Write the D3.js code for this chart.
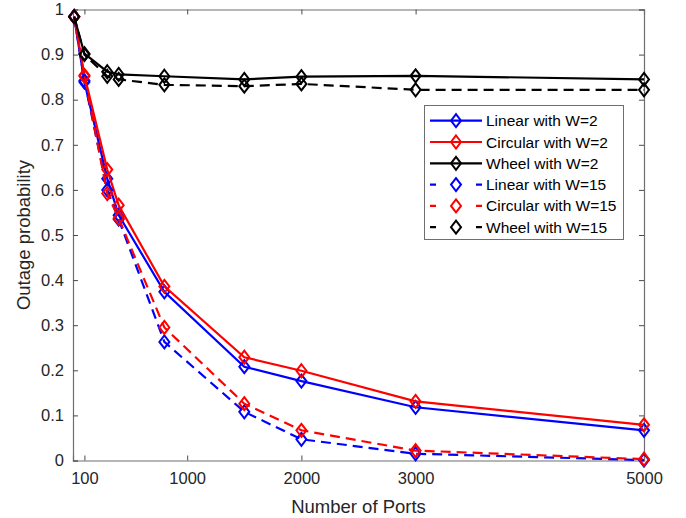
<!DOCTYPE html>
<html>
<head>
<meta charset="utf-8">
<script src="https://cdn.jsdelivr.net/npm/d3@7"></script>
<style>
  body { margin: 0; background: #fff; }
  svg { font-family: "Liberation Sans", Arial, sans-serif; }
</style>
</head>
<body>
<div id="chart"></div>
<script>
// data
var ports = [10, 100, 300, 400, 800, 1500, 2000, 3000, 5000];
var linearW2    = [0.984, 0.839, 0.625, 0.544, 0.374, 0.208, 0.176, 0.118, 0.067];
var circularW2  = [0.984, 0.854, 0.645, 0.566, 0.386, 0.229, 0.199, 0.131, 0.079];
var wheelW2     = [0.984, 0.902, 0.862, 0.856, 0.852, 0.845, 0.851, 0.853, 0.845];
var linearW15   = [0.984, 0.842, 0.600, 0.535, 0.263, 0.108, 0.047, 0.015, 0.001];
var circularW15 = [0.984, 0.852, 0.592, 0.537, 0.295, 0.126, 0.067, 0.022, 0.003];
var wheelW15    = [0.984, 0.900, 0.852, 0.845, 0.833, 0.830, 0.835, 0.822, 0.822];
var xTicks = [100, 1000, 2000, 3000, 5000];
var yTicks = [0, 0.1, 0.2, 0.3, 0.4, 0.5, 0.6, 0.7, 0.8, 0.9, 1];

var series = [
  { name: "Linear with W=2", values: linearW2, color: "#0000ff", dash: null },
  { name: "Circular with W=2", values: circularW2, color: "#ff0000", dash: null },
  { name: "Wheel with W=2", values: wheelW2, color: "#000000", dash: null },
  { name: "Linear with W=15", values: linearW15, color: "#0000ff", dash: "10,6" },
  { name: "Circular with W=15", values: circularW15, color: "#ff0000", dash: "10,6" },
  { name: "Wheel with W=15", values: wheelW15, color: "#000000", dash: "10,6" }
];

var W = 686, H = 518;
var m = { left: 73, right: 644, top: 9.5, bottom: 460.5 };

var svg = d3.select("#chart").append("svg")
  .attr("width", W).attr("height", H);

var x = d3.scaleLinear().domain([0, 5000]).range([m.left, m.right]);
var y = d3.scaleLinear().domain([0, 1]).range([m.bottom, m.top]);

var axisColor = "#262626";

// axes (ticks inward, box on)
var gx = svg.append("g").attr("transform", "translate(0," + m.bottom + ")")
  .call(d3.axisBottom(x).tickValues(xTicks).tickSize(-5).tickPadding(12).tickFormat(d3.format("d")));
var gxt = svg.append("g").attr("transform", "translate(0," + m.top + ")")
  .call(d3.axisTop(x).tickValues(xTicks).tickSize(-5).tickFormat(""));
var gy = svg.append("g").attr("transform", "translate(" + m.left + ",0)")
  .call(d3.axisLeft(y).tickValues(yTicks).tickSize(-5).tickPadding(9).tickFormat(d3.format("")));
var gyr = svg.append("g").attr("transform", "translate(" + m.right + ",0)")
  .call(d3.axisRight(y).tickValues(yTicks).tickSize(-5).tickFormat(""));

[gx, gxt, gy, gyr].forEach(function (g) {
  g.select(".domain").attr("stroke", "#6e6e6e").attr("stroke-width", 1.2);
  g.selectAll(".tick line").attr("stroke", "#4a4a4a");
  g.selectAll(".tick text").attr("fill", axisColor).style("font-size", "16.5px");
});

// axis labels
svg.append("text")
  .attr("x", (m.left + m.right) / 2).attr("y", 513)
  .attr("text-anchor", "middle")
  .attr("fill", axisColor).style("font-size", "18.5px")
  .text("Number of Ports");
svg.append("text")
  .attr("transform", "translate(30," + ((m.top + m.bottom) / 2) + ") rotate(-90)")
  .attr("text-anchor", "middle")
  .attr("fill", axisColor).style("font-size", "18.5px")
  .text("Outage probability");

var line = d3.line()
  .x(function (d, i) { return x(ports[i]); })
  .y(function (d) { return y(d); });

function diamond(g, cx, cy, color) {
  g.append("path")
    .attr("d", "M" + cx + "," + (cy - 6.5) + "L" + (cx + 5) + "," + cy + "L" + cx + "," + (cy + 6.5) + "L" + (cx - 5) + "," + cy + "Z")
    .attr("fill", "none")
    .attr("stroke", color)
    .attr("stroke-width", 2);
}

var plot = svg.append("g");
series.forEach(function (s) {
  var g = plot.append("g");
  g.append("path")
    .datum(s.values)
    .attr("d", line)
    .attr("fill", "none")
    .attr("stroke", s.color)
    .attr("stroke-width", 2.2)
    .attr("stroke-dasharray", s.dash);
  s.values.forEach(function (v, i) {
    diamond(g, x(ports[i]), y(v), s.color);
  });
});

// legend
var lg = svg.append("g");
lg.append("rect")
  .attr("x", 424.5).attr("y", 105.5)
  .attr("width", 199).attr("height", 134)
  .attr("fill", "#fff").attr("stroke", "#6e6e6e").attr("stroke-width", 1);
series.forEach(function (s, i) {
  var ly = 120.7 + i * 21.3;
  lg.append("line")
    .attr("x1", 430).attr("x2", 482)
    .attr("y1", ly).attr("y2", ly)
    .attr("stroke", s.color).attr("stroke-width", 2.2)
    .attr("stroke-dasharray", s.dash ? "6,40,6" : null);
  diamond(lg, 456, ly, s.color);
  lg.append("text")
    .attr("x", 486).attr("y", ly + 5.5)
    .attr("fill", "#000").style("font-size", "15.5px")
    .text(s.name);
});
</script>
</body>
</html>
